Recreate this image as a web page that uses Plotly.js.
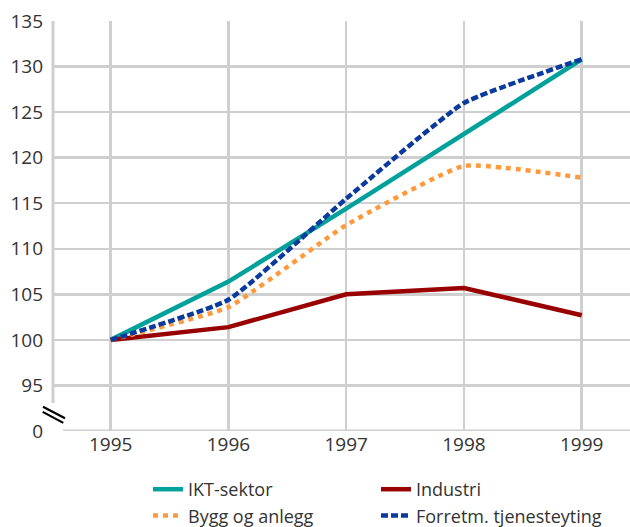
<!DOCTYPE html>
<html>
<head>
<meta charset="utf-8">
<script src="https://cdn.plot.ly/plotly-3.0.1.min.js"></script>
<style>html,body{margin:0;padding:0;background:#fff;}#chart{width:630px;height:527px;}</style>
</head>
<body>
<div id="chart"></div>
<script>
const years = [1995, 1996, 1997, 1998, 1999];
const ikt = [100, 106.4, 114.4, 122.6, 130.8];
const industri = [100, 101.4, 105.0, 105.7, 102.7];
const bygg = [100, 103.6, 112.6, 119.1, 117.8];
const forretm = [100, 104.4, 115.5, 126.0, 130.8];
const seriesNames = ["IKT-sektor", "Industri", "Bygg og anlegg", "Forretm. tjenesteyting"];
const yTickVals = [90, 95, 100, 105, 110, 115, 120, 125, 130, 135];
const yTickText = ["0", "95", "100", "105", "110", "115", "120", "125", "130", "135"];

const FONT = "'Open Sans', 'Noto Sans', sans-serif";
const traces = [
  {x: years, y: ikt, name: seriesNames[0], mode: "lines", line: {color: "#00A19A", width: 4.5}},
  {x: years, y: industri, name: seriesNames[1], mode: "lines", line: {color: "#990000", width: 4.5}},
  {x: years, y: bygg, name: seriesNames[2], mode: "lines", line: {color: "#FF9A3C", width: 4.5, dash: "5px,5px", shape: "spline", smoothing: 0.4}},
  {x: years, y: forretm, name: seriesNames[3], mode: "lines", line: {color: "#0A3A9E", width: 4.5, dash: "7px,3px", shape: "spline", smoothing: 0.4}}
];

const W = 577, H = 410;
const layout = {
  width: 630, height: 527,
  margin: {l: 53, r: 0, t: 21, b: 96, autoexpand: false},
  paper_bgcolor: "#fff", plot_bgcolor: "#fff",
  font: {family: FONT, color: "#333", size: 19},
  showlegend: true,
  legend: {orientation: "h", x: (148 - 53) / W, y: -(471 - 431) / H, xanchor: "left", yanchor: "top",
           entrywidth: 183, entrywidthmode: "pixels", font: {size: 18, color: "#333", family: FONT},
           tracegroupgap: 0, itemwidth: 30, traceorder: "normal"},
  xaxis: {range: [1994.51, 1999.41], tickvals: years, ticktext: years.map(String), showgrid: true,
          gridcolor: "#cfcfcf", gridwidth: 2.5, zeroline: false, showline: false, ticks: "",
          tickfont: {size: 19, color: "#333", family: FONT}, fixedrange: true},
  yaxis: {range: [90, 135], tickvals: yTickVals, ticktext: yTickText, showgrid: true,
          gridcolor: "#cfcfcf", gridwidth: 2.5, zeroline: false, showline: false, ticks: "",
          ticklabelstandoff: 9, tickfont: {size: 19, color: "#333", family: FONT}, fixedrange: true},
  shapes: [
    {type: "rect", xref: "paper", yref: "y", x0: -0.01, x1: 10 / W, y0: 89.6, y1: 90.6, fillcolor: "#fff", line: {width: 0}, layer: "above"},
    {type: "line", xref: "paper", yref: "y", x0: 0, x1: 0, y0: 93.07, y1: 135.1, line: {color: "#cfcfcf", width: 3}, layer: "below"},
    {type: "line", xref: "paper", yref: "y", x0: 10 / W, x1: 1, y0: 90, y1: 90, line: {color: "#cfcfcf", width: 3}, layer: "below"},
    {type: "line", xref: "paper", yref: "paper", x0: (43 - 53) / W, x1: (65 - 53) / W, y0: (431 - 406.7) / H, y1: (431 - 418.3) / H, line: {color: "#000", width: 2.2}, layer: "above"},
    {type: "line", xref: "paper", yref: "paper", x0: (42.7 - 53) / W, x1: (63.3 - 53) / W, y0: (431 - 411.9) / H, y1: (431 - 422.9) / H, line: {color: "#000", width: 2.2}, layer: "above"}
  ]
};
Plotly.newPlot("chart", traces, layout, {displayModeBar: false, staticPlot: true});
</script>
</body>
</html>
